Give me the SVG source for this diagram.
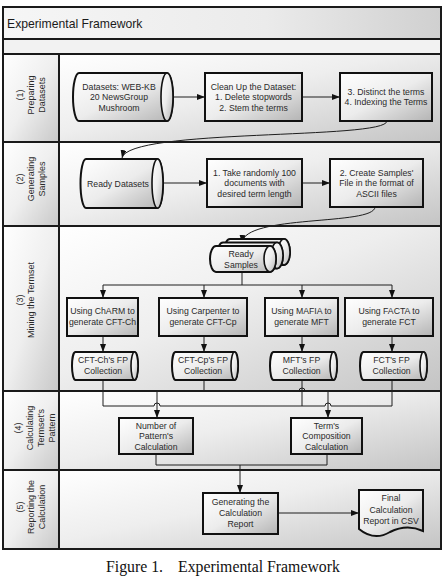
<svg xmlns="http://www.w3.org/2000/svg" width="444" height="576" viewBox="0 0 444 576">
<style>
.lane{stroke:#1a1a1a;stroke-width:2;}
.node{stroke:#111;stroke-width:2;fill:url(#ng);}
.cap{stroke:#111;stroke-width:1.6;fill:url(#ng);}
.t{font-family:"Liberation Sans",Arial,sans-serif;font-size:8.7px;fill:#2a2a2a;text-anchor:middle;}
.lbl{font-family:"Liberation Sans",Arial,sans-serif;font-size:9px;fill:#2a2a2a;text-anchor:middle;}
.c{fill:none;stroke:#1e1e1e;stroke-width:1;}
.ca{fill:none;stroke:#1e1e1e;stroke-width:1;marker-end:url(#ah);}
</style>
<defs>
<linearGradient id="lg" x1="0" y1="0" x2="1" y2="1"><stop offset="0" stop-color="#ffffff"/><stop offset="0.45" stop-color="#eeeeee"/><stop offset="1" stop-color="#c4c4c4"/></linearGradient>
<linearGradient id="colg" x1="0" y1="0" x2="1" y2="1"><stop offset="0" stop-color="#ffffff"/><stop offset="0.5" stop-color="#efefef"/><stop offset="1" stop-color="#c8c8c8"/></linearGradient>
<linearGradient id="tg" x1="0" y1="0" x2="1" y2="0"><stop offset="0" stop-color="#f6f6f6"/><stop offset="0.6" stop-color="#ebebeb"/><stop offset="1" stop-color="#d0d0d0"/></linearGradient>
<linearGradient id="ng" x1="0" y1="0" x2="1" y2="1"><stop offset="0" stop-color="#ffffff"/><stop offset="0.5" stop-color="#ececec"/><stop offset="1" stop-color="#b4b4b4"/></linearGradient>
<marker id="ah" markerWidth="8" markerHeight="6" refX="8" refY="3" orient="auto" markerUnits="userSpaceOnUse"><path d="M0,0 L8,3 L0,6 z" fill="#111"/></marker>
</defs>
<rect x="0" y="0" width="444" height="576" fill="#ffffff"/>

<g id="frame">
<rect class="lane" x="3" y="7" width="438" height="32" fill="url(#tg)"/>
<text x="7" y="28" font-family="'Liberation Sans',Arial,sans-serif" font-size="12.2" fill="#1a1a1a">Experimental Framework</text>
<rect class="lane" x="3" y="39" width="438" height="15" fill="#f2f2f2"/>
</g>

<g id="lane1">
<rect class="lane" x="59" y="54" width="382" height="88" fill="url(#lg)"/>
<rect class="lane" x="3" y="54" width="56" height="88" fill="url(#colg)"/>
<text class="lbl" transform="translate(0,95) rotate(-90)"><tspan x="0" y="23">(1)</tspan><tspan x="0" y="34">Preparing</tspan><tspan x="0" y="45">Datasets</tspan></text>
</g>
<g id="lane2">
<rect class="lane" x="59" y="142" width="382" height="84" fill="url(#lg)"/>
<rect class="lane" x="3" y="142" width="56" height="84" fill="url(#colg)"/>
<text class="lbl" transform="translate(0,179) rotate(-90)"><tspan x="0" y="23">(2)</tspan><tspan x="0" y="34">Generating</tspan><tspan x="0" y="45">Samples</tspan></text>
</g>
<g id="lane3">
<rect class="lane" x="59" y="226" width="382" height="165" fill="url(#lg)"/>
<rect class="lane" x="3" y="226" width="56" height="165" fill="url(#colg)"/>
<text class="lbl" transform="translate(0,300) rotate(-90)"><tspan x="0" y="23">(3)</tspan><tspan x="0" y="34">Mining the Termset</tspan></text>
</g>
<g id="lane4">
<rect class="lane" x="59" y="391" width="382" height="79" fill="url(#lg)"/>
<rect class="lane" x="3" y="391" width="56" height="79" fill="url(#colg)"/>
<text class="lbl" transform="translate(0,428) rotate(-90)"><tspan x="0" y="21">(4)</tspan><tspan x="0" y="32.5">Calculating</tspan><tspan x="0" y="43.5">Termset's</tspan><tspan x="0" y="54.5">Pattern</tspan></text>
</g>
<g id="lane5">
<rect class="lane" x="59" y="470" width="382" height="79" fill="url(#lg)"/>
<rect class="lane" x="3" y="470" width="56" height="79" fill="url(#colg)"/>
<text class="lbl" transform="translate(0,507) rotate(-90)"><tspan x="0" y="23">(5)</tspan><tspan x="0" y="34">Reporting the</tspan><tspan x="0" y="45">Calculation</tspan></text>
</g>

<g id="connectors">
<path class="ca" d="M173,97 H205"/>
<path class="ca" d="M302,97 H340"/>
<path class="ca" d="M387,121 C386,140 128,128 122,158"/>
<path class="ca" d="M163,183 H207"/>
<path class="ca" d="M302,183 H330"/>
<path class="ca" d="M375,207 C374,226 244,214 242,243"/>
<path class="c" d="M242,272 V285 M103,285 H392"/>
<path class="ca" d="M103,285 V298"/>
<path class="ca" d="M204,285 V298"/>
<path class="ca" d="M302,285 V298"/>
<path class="ca" d="M392,285 V298"/>
<path class="ca" d="M103,336 V352"/>
<path class="ca" d="M204,336 V352"/>
<path class="ca" d="M302,336 V352"/>
<path class="ca" d="M392,336 V352"/>
<path class="c" d="M103,380 V406 H154 a3,3 0 0 1 6,0 H325 a3,3 0 0 1 6,0 H392 V380"/>
<path class="c" d="M302,380 V406"/>
<path class="c" d="M204,380 V391 M157,391 H299 a3,3 0 0 1 6,0 H328"/>
<path class="ca" d="M157,391 V418"/>
<path class="ca" d="M328,391 V418"/>
<path class="c" d="M156,454 V465 H327 V454"/>
<path class="ca" d="M240,465 V493"/>
<path class="ca" d="M278,513 H359"/>
</g>

<g id="datasets">
<path class="node" d="M79,73 H167 A6,24 0 0 1 167,121 H79 A6,24 0 0 1 79,73 Z"/>
<ellipse class="cap" cx="167" cy="97" rx="6" ry="24"/>
<text class="t"><tspan x="119" y="89.5">Datasets: WEB-KB</tspan><tspan x="119" y="100.2">20 NewsGroup</tspan><tspan x="119" y="110.9">Mushroom</tspan></text>
</g>
<g id="cleanup">
<rect class="node" x="205" y="73" width="97" height="48"/>
<text class="t"><tspan x="253.5" y="89.5">Clean Up the Dataset:</tspan><tspan x="253.5" y="100.2">1. Delete stopwords</tspan><tspan x="253.5" y="110.9">2. Stem the terms</tspan></text>
</g>
<g id="distinct">
<rect class="node" x="340" y="73" width="92" height="48"/>
<text class="t"><tspan x="386" y="94.5">3. Distinct the terms</tspan><tspan x="386" y="105.2">4. Indexing the Terms</tspan></text>
</g>

<g id="readydatasets">
<path class="node" d="M86,159 H157.5 A5.5,24.5 0 0 1 157.5,208 H86 A5.5,24.5 0 0 1 86,159 Z"/>
<ellipse class="cap" cx="157.5" cy="183.5" rx="5.5" ry="24.5"/>
<text class="t" x="118" y="186.5">Ready Datasets</text>
</g>
<g id="take">
<rect class="node" x="207" y="159" width="95" height="48"/>
<text class="t"><tspan x="254.5" y="175.5">1. Take randomly 100</tspan><tspan x="254.5" y="186.2">documents with</tspan><tspan x="254.5" y="196.9">desired term length</tspan></text>
</g>
<g id="create">
<rect class="node" x="330" y="159" width="93" height="48"/>
<text class="t"><tspan x="376.5" y="175.5">2. Create Samples'</tspan><tspan x="376.5" y="186.2">File in the format of</tspan><tspan x="376.5" y="196.9">ASCII files</tspan></text>
</g>

<g id="readysamples">
<path class="node" d="M230,239 H284 A6,13 0 0 1 284,265 H230 A6,13 0 0 1 230,239 Z"/>
<ellipse class="cap" cx="284" cy="252" rx="6" ry="13"/>
<path class="node" d="M223,242.5 H277 A6,13 0 0 1 277,268.5 H223 A6,13 0 0 1 223,242.5 Z"/>
<ellipse class="cap" cx="277" cy="255.5" rx="6" ry="13"/>
<path class="node" d="M216,246 H270 A6,13 0 0 1 270,272 H216 A6,13 0 0 1 216,246 Z"/>
<ellipse class="cap" cx="270" cy="259" rx="6" ry="13"/>
<text class="t"><tspan x="241" y="257">Ready</tspan><tspan x="241" y="267.5">Samples</tspan></text>
</g>

<g id="charm">
<rect class="node" x="67" y="298" width="71" height="38"/>
<text class="t"><tspan x="102.5" y="314">Using ChARM to</tspan><tspan x="102.5" y="325">generate CFT-Ch</tspan></text>
</g>
<g id="carpenter">
<rect class="node" x="159" y="298" width="88" height="38"/>
<text class="t"><tspan x="203" y="314">Using Carpenter to</tspan><tspan x="203" y="325">generate CFT-Cp</tspan></text>
</g>
<g id="mafia">
<rect class="node" x="265" y="298" width="73" height="38"/>
<text class="t"><tspan x="301.5" y="314">Using MAFIA to</tspan><tspan x="301.5" y="325">generate MFT</tspan></text>
</g>
<g id="facta">
<rect class="node" x="345" y="298" width="88" height="38"/>
<text class="t"><tspan x="389" y="314">Using FACTA to</tspan><tspan x="389" y="325">generate FCT</tspan></text>
</g>

<g id="fp1">
<path class="node" d="M75.5,352 H134.5 A3.5,14 0 0 1 134.5,380 H75.5 A3.5,14 0 0 1 75.5,352 Z"/>
<ellipse class="cap" cx="134.5" cy="366" rx="3.5" ry="14"/>
<text class="t"><tspan x="103" y="363">CFT-Ch's FP</tspan><tspan x="103" y="374">Collection</tspan></text>
</g>
<g id="fp2">
<path class="node" d="M175.5,352 H234.5 A3.5,14 0 0 1 234.5,380 H175.5 A3.5,14 0 0 1 175.5,352 Z"/>
<ellipse class="cap" cx="234.5" cy="366" rx="3.5" ry="14"/>
<text class="t"><tspan x="203" y="363">CFT-Cp's FP</tspan><tspan x="203" y="374">Collection</tspan></text>
</g>
<g id="fp3">
<path class="node" d="M273.5,352 H333.5 A3.5,14 0 0 1 333.5,380 H273.5 A3.5,14 0 0 1 273.5,352 Z"/>
<ellipse class="cap" cx="333.5" cy="366" rx="3.5" ry="14"/>
<text class="t"><tspan x="301.5" y="363">MFT's FP</tspan><tspan x="301.5" y="374">Collection</tspan></text>
</g>
<g id="fp4">
<path class="node" d="M363.5,352 H423.5 A3.5,14 0 0 1 423.5,380 H363.5 A3.5,14 0 0 1 363.5,352 Z"/>
<ellipse class="cap" cx="423.5" cy="366" rx="3.5" ry="14"/>
<text class="t"><tspan x="391.5" y="363">FCT's FP</tspan><tspan x="391.5" y="374">Collection</tspan></text>
</g>

<g id="numpattern">
<rect class="node" x="119" y="418" width="74" height="36"/>
<text class="t"><tspan x="156" y="428.5">Number of</tspan><tspan x="156" y="439">Pattern's</tspan><tspan x="156" y="449.5">Calculation</tspan></text>
</g>
<g id="termcomp">
<rect class="node" x="291" y="418" width="71" height="36"/>
<text class="t"><tspan x="326.5" y="428.5">Term's</tspan><tspan x="326.5" y="439">Composition</tspan><tspan x="326.5" y="449.5">Calculation</tspan></text>
</g>

<g id="genreport">
<rect class="node" x="203" y="493" width="75" height="41"/>
<text class="t"><tspan x="240.5" y="505">Generating the</tspan><tspan x="240.5" y="516">Calculation</tspan><tspan x="240.5" y="527">Report</tspan></text>
</g>
<g id="finalreport">
<path class="node" d="M359,490 H423 V531 C410,525 400,527 390,532 C380,538 370,538 359,529 Z"/>
<text class="t"><tspan x="391" y="501">Final</tspan><tspan x="391" y="512.5">Calculation</tspan><tspan x="391" y="524">Report in CSV</tspan></text>
</g>

<text x="106" y="572" font-family="'Liberation Serif','Times New Roman',serif" font-size="15.8" fill="#111">Figure 1.</text>
<text x="178" y="572" font-family="'Liberation Serif','Times New Roman',serif" font-size="15.8" fill="#111">Experimental Framework</text>
</svg>
